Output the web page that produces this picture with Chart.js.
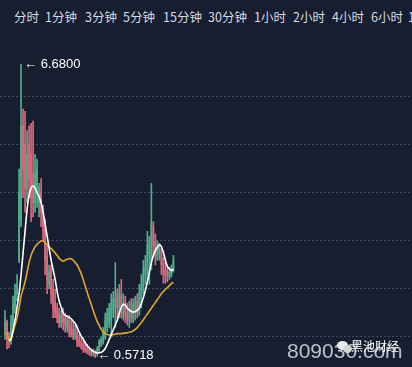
<!DOCTYPE html>
<html>
<head>
<meta charset="utf-8">
<script src="https://cdn.jsdelivr.net/npm/chart.js@4"></script>
<style>
  html, body { margin: 0; padding: 0; background: #161e30; width: 412px; height: 367px; overflow: hidden; }
  body { font-family: "Noto Sans CJK SC", "Noto Sans", sans-serif; position: relative; }
  #tabs { position: absolute; left: 0; top: 0; width: 412px; height: 36px; overflow: hidden; }
  #tabs span { position: absolute; top: 7px; font-size: 12.5px; color: #d6dae2; white-space: nowrap; }
  #wrap { position: absolute; left: 0; top: 36px; width: 412px; height: 331px; }
  .wm { position: absolute; left: 287px; top: 339px; font: 21px "Liberation Sans", Arial, sans-serif; color: rgba(210,215,225,0.88); line-height: normal; }
  .brand { position: absolute; left: 351px; top: 337px; font-size: 12px; color: #ffffff; }
  .icon { position: absolute; left: 337px; top: 341px; width: 11px; height: 9px; border-radius: 50%; background: #ededed; }
  .icon2 { position: absolute; left: 343px; top: 345px; width: 9px; height: 8px; border-radius: 50%; background: #d4d4d4; }
</style>
</head>
<body>
<div id="tabs"></div>
<div id="wrap"><canvas id="kline" width="412" height="331"></canvas></div>
<div class="wm">809030.com</div>
<div class="icon"></div><div class="icon2"></div>
<div class="brand">黑池财经</div>
<script>
// tab bar
const tabLabels = ['分时', '1分钟', '3分钟', '5分钟', '15分钟', '30分钟', '1小时', '2小时', '4小时', '6小时', '12小时'];
const tabLeft = [14, 45, 85, 123, 163, 208, 254, 293, 332, 371, 408];

// candles (price)
const opens = [1.05,1.3,0.95,0.9,1.3,1.6,1.9,2.6,3.4,5.4, 5.0,4.1,5.0,4.8,4.4,3.8,4.0,3.8,4.0,3.6,
  3.3,2.7,2.1,2.4,2.0,1.7,1.6,1.5,1.3,1.5, 1.4,1.2,1.35,1.2,1.15,1.0,1.1,0.95,0.9,0.85,
  0.8,0.75,0.72,0.7,0.65,0.7,0.65,0.72,0.85,0.9, 1.0,1.2,1.3,1.35,1.5,1.6,1.9,1.6,1.85,1.5,
  1.75,1.5,1.35,1.6,1.4,1.6,1.75,1.5,1.8,2.0, 2.3,2.4,2.7,2.6,3.3,3.0,2.7,2.75,2.8,2.6,
  2.4,2.35,2.25,2.3,2.4];
const highs = [1.55,1.35,1.1,1.45,1.85,2.1,2.3,4.5,6.68,5.75, 5.7,5.3,5.4,5.45,5.5,4.8,4.7,4.2,4.3,3.75,
  3.45,2.9,2.5,2.5,2.2,2.0,1.7,1.6,1.55,1.6, 1.5,1.45,1.45,1.35,1.3,1.25,1.2,1.05,1.0,0.95,
  0.9,0.85,0.8,0.75,0.75,0.72,0.8,0.95,1.0,1.2, 1.5,1.6,1.7,1.9,1.95,2.55,2.0,2.1,2.2,1.9,
  1.85,1.7,1.75,1.8,1.8,1.85,1.9,2.1,2.3,2.6, 2.7,3.2,3.1,4.2,3.4,3.15,3.0,2.95,2.85,2.66,
  2.55,2.45,2.45,2.5,2.7];
const lows = [0.95,0.75,0.78,0.85,1.2,1.5,1.75,2.55,3.3,3.9, 3.6,3.8,3.9,3.4,3.5,3.6,3.7,3.5,3.3,3.0,
  2.3,1.9,2.0,1.7,1.4,1.4,1.3,1.2,1.2,1.15, 1.1,1.1,1.0,1.0,0.95,0.95,0.8,0.8,0.75,0.68,
  0.68,0.65,0.62,0.6,0.6,0.5718,0.6,0.68,0.8,0.85, 0.95,1.1,1.2,1.0,1.4,1.2,1.4,1.4,1.4,1.35,
  1.3,1.25,1.2,1.3,1.3,1.35,1.4,1.45,1.6,1.9, 2.1,2.2,2.1,2.4,2.66,2.5,2.6,2.6,2.3,2.12,
  2.12,2.15,2.2,2.25,2.35];
const closes = [1.3,0.95,0.9,1.3,1.7,1.95,2.1,4.0,5.4,4.5, 4.1,4.8,4.3,3.9,3.8,4.4,4.5,4.1,3.6,3.2,
  2.6,2.2,2.35,1.9,1.6,1.5,1.4,1.3,1.45,1.3, 1.25,1.35,1.15,1.05,1.0,1.15,0.9,0.85,0.8,0.75,
  0.72,0.7,0.68,0.65,0.7,0.62,0.75,0.9,0.95,1.1, 1.35,1.5,1.6,1.7,1.8,1.8,1.6,1.9,1.5,1.7,
  1.45,1.35,1.6,1.4,1.7,1.75,1.5,1.9,2.1,2.4, 2.5,2.9,3.0,3.4,2.9,2.7,2.9,2.85,2.5,2.3,
  2.25,2.3,2.35,2.4,2.6];

// moving averages
const maWhite = [null,null,0.92,0.95,1.15,1.35,1.62,1.9,2.3,2.75, 3.2,3.65,3.95,4.1,4.15,4.1,4.0,3.92,3.8,3.6,
  3.35,3.1,2.85,2.6,2.4,2.2,1.95,1.75,1.62,1.5, 1.45,1.43,1.41,1.38,1.33,1.28,1.2,1.1,1.02,0.96,
  0.88,0.82,0.77,0.73,0.7,0.68,0.67,0.67,0.68,0.71, 0.76,0.85,0.95,1.05,1.15,1.25,1.35,1.5,1.62,1.68,
  1.66,1.6,1.56,1.53,1.52,1.53,1.56,1.6,1.7,1.82, 1.97,2.15,2.35,2.55,2.7,2.8,2.87,2.92,2.88,2.76,
  2.6,2.47,2.42,2.38,2.42];
const maOrange = [null,1.1,0.95,0.98,1.1,1.25,1.4,1.6,1.85,2.0, 2.15,2.35,2.55,2.7,2.8,2.88,2.93,2.97,3.0,3.0,
  2.97,2.92,2.88,2.84,2.8,2.75,2.7,2.64,2.6,2.58, 2.6,2.62,2.63,2.63,2.6,2.55,2.5,2.42,2.32,2.2,
  2.06,1.93,1.8,1.68,1.55,1.43,1.32,1.24,1.16,1.11, 1.07,1.05,1.04,1.04,1.05,1.06,1.07,1.07,1.07,1.08,
  1.08,1.09,1.1,1.11,1.13,1.16,1.2,1.25,1.3,1.36, 1.42,1.48,1.54,1.6,1.66,1.72,1.78,1.84,1.9,1.95,
  1.99,2.03,2.07,2.11,2.14];

const yTicks = [1, 2, 3, 4, 5, 6];

const UP = '#4fb08c', DOWN = '#df6a7e';

const tabs = document.getElementById('tabs');
tabLabels.forEach((t, i) => {
  const s = document.createElement('span');
  s.textContent = t;
  s.style.left = tabLeft[i] + 'px';
  tabs.appendChild(s);
});

const candleColor = c => closes[c.dataIndex] >= opens[c.dataIndex] ? UP : DOWN;

// arrows + price at the highest high and lowest low
const extremeLabels = {
  id: 'extremeLabels',
  afterDatasetsDraw(chart) {
    const { ctx, scales: { x, y } } = chart;
    const hi = Math.max(...highs), lo = Math.min(...lows);
    const hiI = highs.indexOf(hi), loI = lows.indexOf(lo);
    ctx.save();
    ctx.font = '13px "Liberation Sans", Arial, sans-serif';
    ctx.fillStyle = '#ffffff';
    ctx.textBaseline = 'middle';
    ctx.fillText('← ' + hi.toFixed(4), x.getPixelForValue(hiI) + 3, y.getPixelForValue(hi));
    ctx.fillText('← ' + lo.toFixed(4), x.getPixelForValue(loI) + 2, y.getPixelForValue(lo) - 2);
    ctx.restore();
  }
};

new Chart(document.getElementById('kline'), {
  type: 'bar',
  data: {
    datasets: [
      {
        type: 'line', label: 'MA5', order: 0,
        data: maWhite.map((v, i) => ({ x: i, y: v })),
        borderColor: '#ffffff', borderWidth: 1.6, pointRadius: 0, tension: 0.4, fill: false
      },
      {
        type: 'line', label: 'MA10', order: 1,
        data: maOrange.map((v, i) => ({ x: i, y: v })),
        borderColor: '#e2a62c', borderWidth: 1.6, pointRadius: 0, tension: 0.4, fill: false
      },
      {
        label: 'wick', order: 2, grouped: false,
        data: highs.map((h, i) => ({ x: i, y: [lows[i], h] })),
        backgroundColor: candleColor, barThickness: 1, borderWidth: 0
      },
      {
        label: 'body', order: 2, grouped: false,
        data: opens.map((o, i) => ({ x: i, y: [o, closes[i]] })),
        backgroundColor: candleColor, barThickness: 1, borderWidth: 0
      }
    ]
  },
  options: {
    responsive: false,
    animation: false,
    layout: { padding: 0 },
    plugins: { legend: { display: false }, tooltip: { enabled: false } },
    scales: {
      x: { type: 'linear', min: -2.5, max: 203, display: false, offset: false },
      y: {
        min: 0.375, max: 7.27,
        afterBuildTicks: s => { s.ticks = yTicks.map(v => ({ value: v })); },
        ticks: { display: false },
        border: { display: false, dash: [2, 2] },
        grid: { color: 'rgba(120,132,155,0.45)', lineWidth: 1, drawTicks: false, tickLength: 0 }
      }
    }
  },
  plugins: [extremeLabels]
});
</script>
</body>
</html>
